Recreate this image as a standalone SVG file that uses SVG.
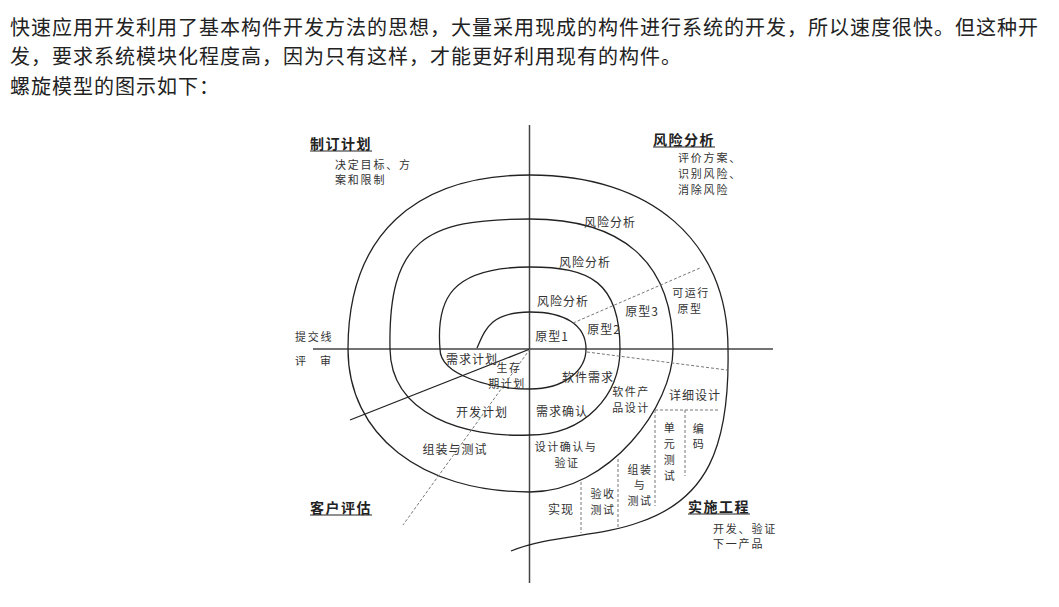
<svg xmlns="http://www.w3.org/2000/svg" width="1059" height="607" viewBox="0 0 1059 607">
<style>
.p{font-family:"Noto Sans CJK SC","Noto Sans",sans-serif;font-size:20px;fill:#222;letter-spacing:1px}
.l{font-family:"Noto Sans CJK SC","Noto Sans",sans-serif;font-size:12px;fill:#333;text-anchor:middle;dominant-baseline:central;letter-spacing:1px}
.t{font-family:"Noto Sans CJK SC","Noto Sans",sans-serif;font-size:11px;fill:#333;text-anchor:middle;dominant-baseline:central;letter-spacing:1.5px}
.s{font-family:"Noto Sans CJK SC","Noto Sans",sans-serif;font-size:11px;fill:#333;dominant-baseline:central;letter-spacing:1.8px}
.h{font-family:"Noto Sans CJK SC","Noto Sans",sans-serif;font-size:14px;font-weight:bold;fill:#222;text-anchor:middle;dominant-baseline:central;letter-spacing:1.5px}
.ax{stroke:#444;stroke-width:1.5;fill:none}
.sp{stroke:#222;stroke-width:1.3;fill:none}
.d{stroke:#777;stroke-width:1;stroke-dasharray:3 2;fill:none}
.u{stroke:#222;stroke-width:1}
</style>
<rect width="1059" height="607" fill="#fff"/>
<g id="paragraph">
<text class="p" x="10" y="35">快速应用开发利用了基本构件开发方法的思想，大量采用现成的构件进行系统的开发，所以速度很快。但这种开</text>
<text class="p" x="10" y="64">发，要求系统模块化程度高，因为只有这样，才能更好利用现有的构件。</text>
<text class="p" x="10" y="94">螺旋模型的图示如下：</text>
</g>
<g id="connectors">
<line class="ax" x1="313" y1="349" x2="773" y2="349"/>
<line class="ax" x1="529.5" y1="125" x2="529.5" y2="583"/>
<path id="spiral" class="sp" d="M477,348 C485,330 490,312 530,312 C565,312 586,325 586,349 C586,370 565,389 530,389 C490,389 440,375 440,349 C436,300 450,267 530,267 C590,267 620,282 620,349 C620,395 585,435 530,435 C465,438 391,415 390,349 C388,240 425,219 530,219 C620,219 673,260 673,349 C673,405 610,492 530,492 C421,492 348,435 348,349 C348,235 415,175 530,175 C650,175 728,240 728,349 C730,450 705,500 640,522 C600,537 550,535 511,551"/>
<line class="sp" x1="530" y1="349" x2="350" y2="420"/>
<line class="d" x1="530" y1="349" x2="403" y2="525"/>
<line class="d" x1="573" y1="323" x2="700" y2="268"/>
<line class="d" x1="587" y1="352" x2="727" y2="370"/>
<line class="d" x1="655" y1="410" x2="720" y2="410"/>
<line class="d" x1="655" y1="410" x2="655" y2="506"/>
<line class="d" x1="685" y1="410" x2="685" y2="476"/>
<line class="d" x1="618" y1="459" x2="618" y2="527"/>
<line class="d" x1="581" y1="482" x2="581" y2="533"/>
</g>
<g id="plan">
<text class="h" x="341" y="143">制订计划</text>
<line class="u" x1="310" y1="151" x2="372" y2="151"/>
<text class="s" x="335" y="164">决定目标、方</text>
<text class="s" x="335" y="179">案和限制</text>
</g>
<g id="risk">
<text class="h" x="684" y="139">风险分析</text>
<line class="u" x1="653" y1="147" x2="715" y2="147"/>
<text class="s" x="678" y="157">评价方案、</text>
<text class="s" x="678" y="173">识别风险、</text>
<text class="s" x="678" y="189">消除风险</text>
</g>
<g id="customer">
<text class="h" x="341" y="507">客户评估</text>
<line class="u" x1="310" y1="515" x2="372" y2="515"/>
</g>
<g id="engineering">
<text class="h" x="719" y="506">实施工程</text>
<line class="u" x1="688" y1="514" x2="750" y2="514"/>
<text class="s" x="713" y="528">开发、验证</text>
<text class="s" x="713" y="543">下一产品</text>
</g>
<g id="review">
<text class="s" x="295" y="336">提交线</text>
<text class="s" x="295" y="360">评<tspan x="320">审</tspan></text>
</g>
<g id="labels">
<text class="l" x="610" y="221">风险分析</text>
<text class="l" x="585" y="261">风险分析</text>
<text class="l" x="563" y="300">风险分析</text>
<text class="l" x="552" y="335">原型1</text>
<text class="l" x="604" y="328">原型2</text>
<text class="l" x="642" y="310">原型3</text>
<text class="t" x="691" y="292">可运行</text>
<text class="t" x="690" y="308">原型</text>
<text class="l" x="472" y="358">需求计划</text>
<text class="t" x="509" y="367">生存</text>
<text class="t" x="507" y="383">期计划</text>
<text class="l" x="482" y="411">开发计划</text>
<text class="l" x="455" y="448">组装与测试</text>
<text class="l" x="588" y="376">软件需求</text>
<text class="l" x="562" y="410">需求确认</text>
<text class="t" x="631" y="391">软件产</text>
<text class="t" x="631" y="407">品设计</text>
<text class="l" x="695" y="394">详细设计</text>
<text class="t" x="566" y="446">设计确认与</text>
<text class="t" x="567" y="462">验证</text>
<text class="l" x="561" y="508">实现</text>
<text class="t" x="603" y="493">验收</text>
<text class="t" x="603" y="509">测试</text>
<text class="t" x="640" y="469">组装</text>
<text class="t" x="640" y="484">与</text>
<text class="t" x="640" y="500">测试</text>
<text class="t" x="670" y="427">单</text>
<text class="t" x="670" y="443">元</text>
<text class="t" x="670" y="459">测</text>
<text class="t" x="670" y="475">试</text>
<text class="t" x="699" y="428">编</text>
<text class="t" x="699" y="443">码</text>
</g>
</svg>
